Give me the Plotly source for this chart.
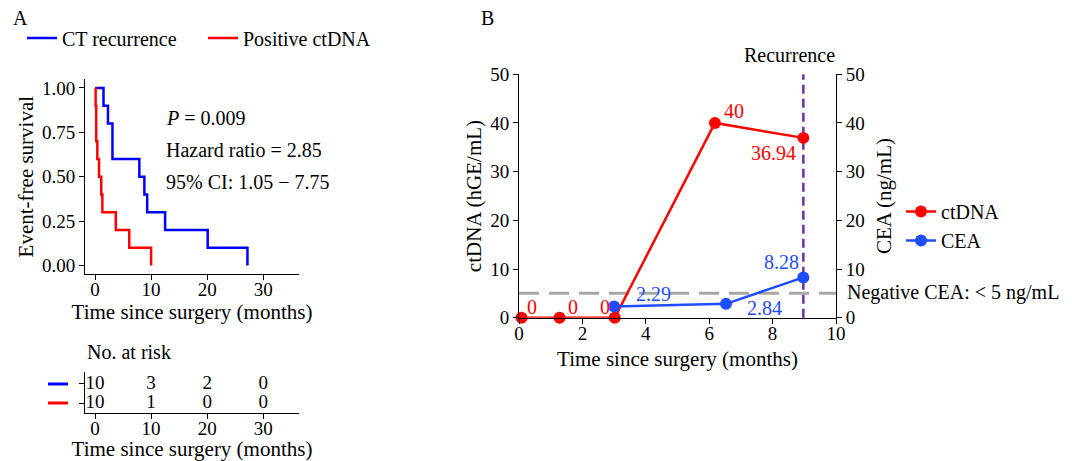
import plotly.graph_objects as go

# ---------------- data ----------------
# Panel A: Kaplan-Meier step curves (months, survival)
ct_times = [0, 1.5, 2.3, 3.1, 7.9, 8.8, 9.3, 12.5, 20.1, 27.2]
ct_surv = [1.0, 0.9, 0.8, 0.6, 0.5, 0.4, 0.3, 0.2, 0.1, 0.0]
ctdna_times = [0, 0.1, 0.2, 0.4, 0.7, 1.1, 1.3, 3.7, 6.1, 10.0]
ctdna_surv = [1.0, 0.9, 0.7, 0.6, 0.5, 0.4, 0.3, 0.2, 0.1, 0.0]
km_ticks = [0, 10, 20, 30]
surv_ticks = [0.0, 0.25, 0.5, 0.75, 1.0]

# Panel A: number at risk
risk_times = [0, 10, 20, 30]
ct_risk = [10, 3, 2, 0]
ctdna_risk = [10, 1, 0, 0]

stats_lines = ["<i>P</i> = 0.009", "Hazard ratio = 2.85", "95% CI: 1.05 \u2212 7.75"]

# Panel B: ctDNA and CEA over time
ctdna_t = [0.08, 1.28, 3.02, 6.18, 8.97]
ctdna_v = [0, 0, 0, 40, 36.94]
cea_t = [3.0, 6.53, 8.97]
cea_v = [2.29, 2.84, 8.28]
cea_threshold = 5
recurrence_t = 8.97
b_xticks = [0, 2, 4, 6, 8, 10]
b_yticks = [0, 10, 20, 30, 40, 50]

# ---------------- style ----------------
W, H = 1072, 461
FONT = "Liberation Serif"
BLUE_KM = "#0000ff"
RED = "#ff0000"
BLUE = "#1f4cff"
PURPLE = "#7030a0"
GRAY = "#a6a6a6"

def px(x):
    return x / W

def py(y):
    return 1 - y / H

fig = go.Figure()

# KM curves
fig.add_trace(go.Scatter(x=ct_times, y=ct_surv, mode="lines", line=dict(color=BLUE_KM, width=2.5, shape="hv"),
                         name="CT recurrence", xaxis="x", yaxis="y", legend="legend"))
fig.add_trace(go.Scatter(x=ctdna_times, y=ctdna_surv, mode="lines", line=dict(color=RED, width=2.5, shape="hv"),
                         name="Positive ctDNA", xaxis="x", yaxis="y", legend="legend"))

# Risk table
for row, vals in ((2, ct_risk), (1, ctdna_risk)):
    fig.add_trace(go.Scatter(x=risk_times, y=[row] * len(risk_times), mode="text",
                             text=[str(v) for v in vals], textfont=dict(family=FONT, size=19, color="black"),
                             xaxis="x2", yaxis="y2", showlegend=False, cliponaxis=False, hoverinfo="skip"))

# Panel B traces
fig.add_trace(go.Scatter(x=ctdna_t, y=ctdna_v, mode="lines+markers", name="ctDNA",
                         line=dict(color=RED, width=2.5), marker=dict(color=RED, size=12),
                         xaxis="x3", yaxis="y3", legend="legend2", cliponaxis=False))
fig.add_trace(go.Scatter(x=cea_t, y=cea_v, mode="lines+markers", name="CEA",
                         line=dict(color=BLUE, width=2.5), marker=dict(color=BLUE, size=12),
                         xaxis="x3", yaxis="y4", legend="legend2", cliponaxis=False))

axis_common = dict(showline=True, linecolor="black", linewidth=1, ticks="outside", ticklen=5,
                   tickcolor="black", showgrid=False, zeroline=False, automargin=False,
                   tickfont=dict(family=FONT, size=19, color="black"))
x_common = dict(axis_common, ticklabelstandoff=-7)
title_font = dict(family=FONT, size=21, color="black")

fig.update_layout(
    template="none",
    width=W, height=H, margin=dict(l=0, r=0, t=0, b=0, pad=0, autoexpand=False),
    paper_bgcolor="white", plot_bgcolor="white",
    font=dict(family=FONT, color="black"),
    xaxis=dict(domain=[px(85), px(299)], range=[-1.8, 36.4], tickvals=km_ticks, anchor="y",
               title=dict(text="Time since surgery (months)", font=title_font, standoff=4), **x_common),
    yaxis=dict(domain=[py(274.3), py(79)], range=[-0.05, 1.05], tickvals=surv_ticks,
               tickformat=".2f", anchor="x",
               title=dict(text="Event-free survival", font=title_font, standoff=2), **axis_common),
    xaxis2=dict(domain=[px(85), px(299)], range=[-1.8, 36.4], tickvals=km_ticks, anchor="y2",
                title=dict(text="Time since surgery (months)", font=title_font, standoff=4), **x_common),
    yaxis2=dict(domain=[py(413), py(372)], range=[0.474, 2.63], tickvals=[1, 2], showticklabels=False,
                anchor="x2", **{k: v for k, v in axis_common.items() if k != "tickfont"}),
    xaxis3=dict(domain=[px(519), px(836)], range=[0, 10], tickvals=b_xticks, anchor="y3",
                title=dict(text="Time since surgery (months)", font=title_font, standoff=8), **x_common),
    yaxis3=dict(domain=[py(317.7), py(74.3)], range=[0, 50], tickvals=b_yticks, anchor="x3",
                title=dict(text="ctDNA (hGE/mL)", font=title_font, standoff=2), **axis_common),
    yaxis4=dict(domain=[py(317.7), py(74.3)], range=[0, 50], tickvals=b_yticks, anchor="x3",
                overlaying="y3", side="right",
                title=dict(text="CEA (ng/mL)", font=title_font, standoff=12), **axis_common),
    legend=dict(orientation="h", x=px(22), xanchor="left", y=py(38), yanchor="middle",
                font=dict(family=FONT, size=20, color="black"), bgcolor="rgba(0,0,0,0)",
                entrywidth=136, entrywidthmode="pixels"),
    legend2=dict(orientation="v", x=px(901), xanchor="left", y=py(192), yanchor="top",
                 font=dict(family=FONT, size=20, color="black"), bgcolor="rgba(0,0,0,0)"),
)

shapes = []
# risk table colour keys
for row, col in ((2, BLUE_KM), (1, RED)):
    shapes.append(dict(type="line", xref="paper", yref="y2", x0=px(48), x1=px(68), y0=row, y1=row,
                       line=dict(color=col, width=3)))
# CEA negative threshold
shapes.append(dict(type="line", xref="x3 domain", yref="y4", x0=0, x1=1, y0=cea_threshold, y1=cea_threshold,
                   line=dict(color=GRAY, width=3, dash="20px,10px"), layer="below"))
# recurrence line
shapes.append(dict(type="line", xref="x3", yref="y3 domain", x0=recurrence_t, x1=recurrence_t, y0=0, y1=1,
                   line=dict(color=PURPLE, width=2.5, dash="9px,5px"), layer="below"))
fig.update_layout(shapes=shapes)

ann = []
ann.append(dict(text="A", x=px(20), y=py(18), xref="paper", yref="paper", showarrow=False,
                font=dict(family=FONT, size=20), xanchor="center", yanchor="middle"))
ann.append(dict(text="B", x=px(487), y=py(18), xref="paper", yref="paper", showarrow=False,
                font=dict(family=FONT, size=20), xanchor="center", yanchor="middle"))
for i, s in enumerate(stats_lines):
    ann.append(dict(text=s, x=px(164), y=py(118 + 32 * i), xref="paper", yref="paper", showarrow=False,
                    font=dict(family=FONT, size=20), xanchor="left", yanchor="middle"))
ann.append(dict(text="No. at risk", x=px(85), y=py(352), xref="paper", yref="paper", showarrow=False,
                font=dict(family=FONT, size=20), xanchor="left", yanchor="middle"))
ann.append(dict(text="Recurrence", x=recurrence_t, xref="x3", y=py(55), yref="paper", xshift=-14,
                showarrow=False, font=dict(family=FONT, size=20), xanchor="center", yanchor="middle"))
ann.append(dict(text="Negative CEA: < 5 ng/mL", x=px(845), y=py(292), xref="paper", yref="paper",
                showarrow=False, font=dict(family=FONT, size=20), xanchor="left", yanchor="middle"))

# point labels
ctdna_shift = [(10, 11), (13, 11), (-10, 11), (19, 12), (-30, -15)]
cea_shift = [(39, 13), (38, -4), (-22, 15)]
for (t, v), (dx, dy) in zip(zip(ctdna_t, ctdna_v), ctdna_shift):
    ann.append(dict(text=f"{v:g}", x=t, y=v, xref="x3", yref="y3", xshift=dx, yshift=dy, showarrow=False,
                    font=dict(family=FONT, size=20, color=RED), xanchor="center", yanchor="middle"))
for (t, v), (dx, dy) in zip(zip(cea_t, cea_v), cea_shift):
    ann.append(dict(text=f"{v:g}", x=t, y=v, xref="x3", yref="y4", xshift=dx, yshift=dy, showarrow=False,
                    font=dict(family=FONT, size=20, color=BLUE), xanchor="center", yanchor="middle"))
fig.update_layout(annotations=ann)

fig.write_html("out.html", config={"displayModeBar": False},
               post_script="document.body.style.margin='0';document.body.style.overflow='hidden';")
